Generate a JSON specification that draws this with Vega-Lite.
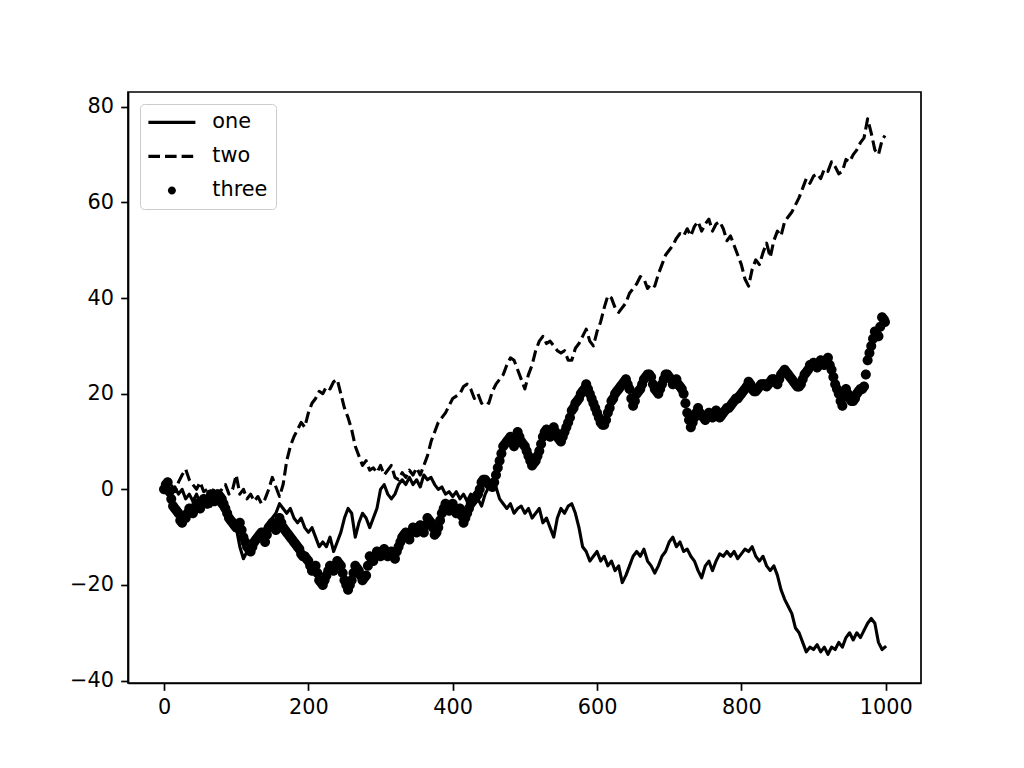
{
"$schema": "https://vega.github.io/schema/vega-lite/v6.json",
"width": 793,
"height": 591,
"autosize": "none",
"padding": {"left": 128, "top": 92, "right": 103, "bottom": 85},
"background": "white",
"config": {
  "view": {"stroke": "black", "strokeWidth": 1.7},
  "axis": {"domainColor": "black", "domainWidth": 1.7, "tickColor": "black", "tickWidth": 1.7, "tickSize": 7.3, "labelFont": "DejaVu Sans", "labelFontSize": 20.8, "labelColor": "black", "labelPadding": 7.3, "grid": false, "labelFlush": false, "labelOverlap": false, "title": null, "format": "d"}
},
"datasets": {
"lines": [
{"x":0,"one":0,"two":0},{"x":5,"one":1,"two":-1},{"x":10,"one":-1,"two":1},{"x":15,"one":0.5,"two":-0.5},{"x":20,"one":-1,"two":1.5},{"x":25,"one":0,"two":3},{"x":30,"one":-2,"two":4.2},{"x":35,"one":-1,"two":2},{"x":40,"one":-2.5,"two":1},{"x":45,"one":-1,"two":0},
{"x":50,"one":-3,"two":1.5},{"x":55,"one":-1.5,"two":-0.5},{"x":60,"one":-2,"two":0},{"x":65,"one":-3.5,"two":-1.5},{"x":70,"one":-2,"two":0.5},{"x":75,"one":-3,"two":-1},{"x":80,"one":-4,"two":0},{"x":85,"one":-5,"two":1},{"x":90,"one":-6,"two":-1},{"x":95,"one":-7,"two":0},
{"x":100,"one":-8,"two":3},{"x":105,"one":-12,"two":-1},{"x":110,"one":-14.5,"two":0},{"x":115,"one":-13,"two":-2},{"x":120,"one":-12,"two":-1},{"x":125,"one":-10,"two":-2.5},{"x":130,"one":-9,"two":-1.5},{"x":135,"one":-10,"two":-3},{"x":140,"one":-8,"two":-2},{"x":145,"one":-7,"two":0},
{"x":150,"one":-6,"two":2.5},{"x":155,"one":-5,"two":0.5},{"x":160,"one":-3,"two":-1.5},{"x":165,"one":-4,"two":1},{"x":170,"one":-5,"two":6},{"x":175,"one":-4,"two":9},{"x":180,"one":-6,"two":11},{"x":185,"one":-7,"two":12.5},{"x":190,"one":-6,"two":14},{"x":195,"one":-8,"two":13},
{"x":200,"one":-9,"two":16},{"x":205,"one":-8,"two":18},{"x":210,"one":-10,"two":19},{"x":215,"one":-12,"two":20.5},{"x":220,"one":-11,"two":20},{"x":225,"one":-12,"two":21.5},{"x":230,"one":-10,"two":21},{"x":235,"one":-13,"two":22.5},{"x":240,"one":-11,"two":23},{"x":245,"one":-9,"two":20},
{"x":250,"one":-6,"two":17},{"x":255,"one":-4,"two":15},{"x":260,"one":-5,"two":12.5},{"x":265,"one":-10,"two":9},{"x":270,"one":-7,"two":7},{"x":275,"one":-5,"two":5},{"x":280,"one":-6,"two":6},{"x":285,"one":-8,"two":4},{"x":290,"one":-6,"two":4.5},{"x":295,"one":-4,"two":3.5},
{"x":300,"one":0,"two":5},{"x":305,"one":1,"two":3},{"x":310,"one":-1,"two":4},{"x":315,"one":-2,"two":5},{"x":320,"one":-1,"two":2.5},{"x":325,"one":1,"two":2},{"x":330,"one":2,"two":3.5},{"x":335,"one":1,"two":2.5},{"x":340,"one":2.5,"two":4},{"x":345,"one":1,"two":3},
{"x":350,"one":2,"two":4.5},{"x":355,"one":0.5,"two":3},{"x":360,"one":3,"two":5},{"x":365,"one":2,"two":7},{"x":370,"one":2.5,"two":10},{"x":375,"one":1,"two":12},{"x":380,"one":0,"two":14},{"x":385,"one":0.5,"two":15},{"x":390,"one":-1,"two":16},{"x":395,"one":-0.5,"two":17.5},
{"x":400,"one":-1.5,"two":19},{"x":405,"one":-0.5,"two":19.5},{"x":410,"one":-2,"two":20},{"x":415,"one":-1,"two":21.5},{"x":420,"one":-2.5,"two":22},{"x":425,"one":-1,"two":21},{"x":430,"one":-3,"two":19},{"x":435,"one":-2,"two":20},{"x":440,"one":-3.5,"two":18},{"x":445,"one":-1,"two":18.5},
{"x":450,"one":0.5,"two":18},{"x":455,"one":0,"two":20.5},{"x":460,"one":0.5,"two":22},{"x":465,"one":-2,"two":23},{"x":470,"one":-3,"two":24},{"x":475,"one":-4,"two":26},{"x":480,"one":-3,"two":27.5},{"x":485,"one":-5,"two":27},{"x":490,"one":-4,"two":25},{"x":495,"one":-3.5,"two":23},
{"x":500,"one":-5,"two":21},{"x":505,"one":-4,"two":24},{"x":510,"one":-6,"two":26},{"x":515,"one":-5,"two":29},{"x":520,"one":-4,"two":31},{"x":525,"one":-7,"two":32},{"x":530,"one":-6,"two":30.5},{"x":535,"one":-8,"two":31},{"x":540,"one":-10,"two":30},{"x":545,"one":-6,"two":29},
{"x":550,"one":-4,"two":28.5},{"x":555,"one":-5,"two":29},{"x":560,"one":-3.5,"two":27},{"x":565,"one":-3,"two":27},{"x":570,"one":-5,"two":29.5},{"x":575,"one":-8,"two":30.5},{"x":580,"one":-12,"two":32},{"x":585,"one":-13,"two":33.5},{"x":590,"one":-15,"two":31},{"x":595,"one":-14,"two":30},
{"x":600,"one":-13,"two":33},{"x":605,"one":-15,"two":35},{"x":610,"one":-14,"two":38},{"x":615,"one":-16,"two":40.5},{"x":620,"one":-15,"two":40},{"x":625,"one":-17,"two":38},{"x":630,"one":-16,"two":37},{"x":635,"one":-19.5,"two":38},{"x":640,"one":-18,"two":39},{"x":645,"one":-16,"two":41},
{"x":650,"one":-14,"two":42},{"x":655,"one":-13,"two":43},{"x":660,"one":-14,"two":44.5},{"x":665,"one":-12.5,"two":44},{"x":670,"one":-15,"two":42},{"x":675,"one":-16,"two":43},{"x":680,"one":-17.5,"two":42.5},{"x":685,"one":-16,"two":45},{"x":690,"one":-14,"two":47},{"x":695,"one":-13,"two":49},
{"x":700,"one":-11,"two":50},{"x":705,"one":-10,"two":51},{"x":710,"one":-12,"two":52.5},{"x":715,"one":-11,"two":53.5},{"x":720,"one":-13,"two":53},{"x":725,"one":-12.5,"two":54.5},{"x":730,"one":-14,"two":53},{"x":735,"one":-15,"two":55},{"x":740,"one":-17,"two":56},{"x":745,"one":-18.5,"two":54},
{"x":750,"one":-16,"two":55.5},{"x":755,"one":-15,"two":56.5},{"x":760,"one":-17,"two":54},{"x":765,"one":-15,"two":55.5},{"x":770,"one":-13.5,"two":56},{"x":775,"one":-14,"two":54.5},{"x":780,"one":-13,"two":52},{"x":785,"one":-14,"two":53},{"x":790,"one":-13,"two":51},{"x":795,"one":-14.5,"two":49},
{"x":800,"one":-13.5,"two":47},{"x":805,"one":-12.5,"two":44},{"x":810,"one":-13,"two":42.5},{"x":815,"one":-12,"two":46},{"x":820,"one":-14,"two":48},{"x":825,"one":-15,"two":47},{"x":830,"one":-14,"two":49.5},{"x":835,"one":-16,"two":51.5},{"x":840,"one":-17,"two":48.5},{"x":845,"one":-16,"two":52},
{"x":850,"one":-18,"two":54},{"x":855,"one":-21,"two":53},{"x":860,"one":-23,"two":56},{"x":865,"one":-24.5,"two":57},{"x":870,"one":-26,"two":58},{"x":875,"one":-29,"two":59.5},{"x":880,"one":-30,"two":61},{"x":885,"one":-32,"two":63},{"x":890,"one":-34,"two":65},{"x":895,"one":-33,"two":64},
{"x":900,"one":-33.5,"two":65.5},{"x":905,"one":-32.5,"two":66},{"x":910,"one":-34,"two":65},{"x":915,"one":-33,"two":67},{"x":920,"one":-34.5,"two":66.5},{"x":925,"one":-33,"two":68.5},{"x":930,"one":-33.5,"two":67.5},{"x":935,"one":-32,"two":66},{"x":940,"one":-33,"two":66.5},{"x":945,"one":-31,"two":69},
{"x":950,"one":-30,"two":68.5},{"x":955,"one":-31.5,"two":70},{"x":960,"one":-30,"two":71},{"x":965,"one":-31,"two":72.5},{"x":970,"one":-29.5,"two":73.5},{"x":975,"one":-28,"two":77.5},{"x":980,"one":-27,"two":74.5},{"x":985,"one":-28,"two":71},{"x":990,"one":-32,"two":70},{"x":995,"one":-33.5,"two":73},{"x":999,"one":-33,"two":74}
],
"dots": [
{"x":0,"three":0},{"x":2.5,"three":1},{"x":5,"three":1.5},{"x":7.5,"three":-0.5},{"x":10,"three":-2},{"x":12.5,"three":-3.5},{"x":15,"three":-4},{"x":17.5,"three":-4.5},{"x":20,"three":-5},{"x":22.5,"three":-6.5},
{"x":25,"three":-7},{"x":27.5,"three":-6},{"x":30,"three":-6},{"x":32.5,"three":-5},{"x":35,"three":-4},{"x":37.5,"three":-4.5},{"x":40,"three":-5},{"x":42.5,"three":-4},{"x":45,"three":-3},{"x":47.5,"three":-3.5},
{"x":50,"three":-4},{"x":52.5,"three":-3},{"x":55,"three":-2},{"x":57.5,"three":-2.5},{"x":60,"three":-3},{"x":62.5,"three":-2},{"x":65,"three":-1},{"x":67.5,"three":-1.5},{"x":70,"three":-2.5},{"x":72.5,"three":-1.5},
{"x":75,"three":-1},{"x":77.5,"three":-1.5},{"x":80,"three":-2},{"x":82.5,"three":-3},{"x":85,"three":-4},{"x":87.5,"three":-5},{"x":90,"three":-6},{"x":92.5,"three":-6.5},{"x":95,"three":-7},{"x":97.5,"three":-7.5},
{"x":100,"three":-8},{"x":102.5,"three":-7.5},{"x":105,"three":-7},{"x":107.5,"three":-8.5},{"x":110,"three":-10},{"x":112.5,"three":-11},{"x":115,"three":-12},{"x":117.5,"three":-12.5},{"x":120,"three":-13},{"x":122.5,"three":-12},
{"x":125,"three":-11},{"x":127.5,"three":-10.5},{"x":130,"three":-10},{"x":132.5,"three":-9.5},{"x":135,"three":-9},{"x":137.5,"three":-10},{"x":140,"three":-11},{"x":142.5,"three":-9.5},{"x":145,"three":-8},{"x":147.5,"three":-7.5},
{"x":150,"three":-7},{"x":152.5,"three":-7.5},{"x":155,"three":-8.5},{"x":157.5,"three":-7},{"x":160,"three":-6},{"x":162.5,"three":-7},{"x":165,"three":-8},{"x":167.5,"three":-8.5},{"x":170,"three":-9},{"x":172.5,"three":-9.5},
{"x":175,"three":-10},{"x":177.5,"three":-10.5},{"x":180,"three":-11},{"x":182.5,"three":-11.5},{"x":185,"three":-12},{"x":187.5,"three":-12.5},{"x":190,"three":-13.5},{"x":192.5,"three":-14},{"x":195,"three":-14},{"x":197.5,"three":-14.5},
{"x":200,"three":-15},{"x":202.5,"three":-16},{"x":205,"three":-17},{"x":207.5,"three":-16.5},{"x":210,"three":-16},{"x":212.5,"three":-17.5},{"x":215,"three":-19},{"x":217.5,"three":-19.5},{"x":220,"three":-20},{"x":222.5,"three":-19},
{"x":225,"three":-18},{"x":227.5,"three":-17},{"x":230,"three":-16},{"x":232.5,"three":-16.5},{"x":235,"three":-17},{"x":237.5,"three":-16},{"x":240,"three":-15},{"x":242.5,"three":-15.5},{"x":245,"three":-16},{"x":247.5,"three":-17.5},
{"x":250,"three":-19},{"x":252.5,"three":-20},{"x":255,"three":-21},{"x":257.5,"three":-20},{"x":260,"three":-19},{"x":262.5,"three":-17.5},{"x":265,"three":-16},{"x":267.5,"three":-16.5},{"x":270,"three":-17},{"x":272.5,"three":-18},
{"x":275,"three":-19},{"x":277.5,"three":-18.5},{"x":280,"three":-18},{"x":282.5,"three":-16},{"x":285,"three":-14},{"x":287.5,"three":-14.5},{"x":290,"three":-15},{"x":292.5,"three":-14},{"x":295,"three":-13},{"x":297.5,"three":-13.5},
{"x":300,"three":-14},{"x":302.5,"three":-13},{"x":305,"three":-12.5},{"x":307.5,"three":-13},{"x":310,"three":-14},{"x":312.5,"three":-13.5},{"x":315,"three":-13},{"x":317.5,"three":-13.5},{"x":320,"three":-14.5},{"x":322.5,"three":-13},
{"x":325,"three":-12},{"x":327.5,"three":-11},{"x":330,"three":-10},{"x":332.5,"three":-9.5},{"x":335,"three":-9},{"x":337.5,"three":-9.5},{"x":340,"three":-10.5},{"x":342.5,"three":-9},{"x":345,"three":-8},{"x":347.5,"three":-8.5},
{"x":350,"three":-9},{"x":352.5,"three":-8},{"x":355,"three":-7.5},{"x":357.5,"three":-8},{"x":360,"three":-9},{"x":362.5,"three":-7.5},{"x":365,"three":-6},{"x":367.5,"three":-6.5},{"x":370,"three":-7},{"x":372.5,"three":-8},
{"x":375,"three":-9.5},{"x":377.5,"three":-9},{"x":380,"three":-8},{"x":382.5,"three":-6.5},{"x":385,"three":-5},{"x":387.5,"three":-4},{"x":390,"three":-3},{"x":392.5,"three":-3.5},{"x":395,"three":-4.5},{"x":397.5,"three":-3.5},
{"x":400,"three":-3},{"x":402.5,"three":-4},{"x":405,"three":-5},{"x":407.5,"three":-4.5},{"x":410,"three":-4},{"x":412.5,"three":-5.5},{"x":415,"three":-7},{"x":417.5,"three":-6},{"x":420,"three":-5},{"x":422.5,"three":-4},
{"x":425,"three":-3},{"x":427.5,"three":-2.5},{"x":430,"three":-2},{"x":432.5,"three":-1.5},{"x":435,"three":-1},{"x":437.5,"three":0},{"x":440,"three":1.5},{"x":442.5,"three":2},{"x":445,"three":2},{"x":447.5,"three":1.5},
{"x":450,"three":1},{"x":452.5,"three":1},{"x":455,"three":0.5},{"x":457.5,"three":1.5},{"x":460,"three":3},{"x":462.5,"three":4.5},{"x":465,"three":6},{"x":467.5,"three":7.5},{"x":470,"three":9},{"x":472.5,"three":9.5},
{"x":475,"three":10},{"x":477.5,"three":10.5},{"x":480,"three":11},{"x":482.5,"three":10},{"x":485,"three":9},{"x":487.5,"three":10.5},{"x":490,"three":12},{"x":492.5,"three":11},{"x":495,"three":10},{"x":497.5,"three":9.5},
{"x":500,"three":9},{"x":502.5,"three":8},{"x":505,"three":7},{"x":507.5,"three":6},{"x":510,"three":5},{"x":512.5,"three":5.5},{"x":515,"three":6},{"x":517.5,"three":7},{"x":520,"three":8},{"x":522.5,"three":9.5},
{"x":525,"three":11},{"x":527.5,"three":12},{"x":530,"three":12.5},{"x":532.5,"three":12},{"x":535,"three":11},{"x":537.5,"three":12},{"x":540,"three":13},{"x":542.5,"three":12},{"x":545,"three":11},{"x":547.5,"three":10.5},
{"x":550,"three":10},{"x":552.5,"three":11},{"x":555,"three":12},{"x":557.5,"three":13},{"x":560,"three":14},{"x":562.5,"three":15},{"x":565,"three":16.5},{"x":567.5,"three":17},{"x":570,"three":18},{"x":572.5,"three":18.5},
{"x":575,"three":19},{"x":577.5,"three":20},{"x":580,"three":20.5},{"x":582.5,"three":21},{"x":585,"three":22},{"x":587.5,"three":21},{"x":590,"three":20},{"x":592.5,"three":19},{"x":595,"three":18},{"x":597.5,"three":17},
{"x":600,"three":16},{"x":602.5,"three":15},{"x":605,"three":14},{"x":607.5,"three":13.5},{"x":610,"three":13.5},{"x":612.5,"three":14.5},{"x":615,"three":16},{"x":617.5,"three":17},{"x":620,"three":18.5},{"x":622.5,"three":19},
{"x":625,"three":20},{"x":627.5,"three":20.5},{"x":630,"three":21},{"x":632.5,"three":21.5},{"x":635,"three":22},{"x":637.5,"three":22.5},{"x":640,"three":23},{"x":642.5,"three":22},{"x":645,"three":21},{"x":647.5,"three":19},
{"x":650,"three":17.5},{"x":652.5,"three":18.5},{"x":655,"three":20},{"x":657.5,"three":20.5},{"x":660,"three":21},{"x":662.5,"three":22},{"x":665,"three":23},{"x":667.5,"three":23.5},{"x":670,"three":24},{"x":672.5,"three":24},
{"x":675,"three":23.5},{"x":677.5,"three":22},{"x":680,"three":21},{"x":682.5,"three":20.5},{"x":685,"three":20},{"x":687.5,"three":21},{"x":690,"three":22},{"x":692.5,"three":23},{"x":695,"three":24},{"x":697.5,"three":24},
{"x":700,"three":23.5},{"x":702.5,"three":23},{"x":705,"three":22},{"x":707.5,"three":22.5},{"x":710,"three":23},{"x":712.5,"three":22},{"x":715,"three":21.5},{"x":717.5,"three":21},{"x":720,"three":20},{"x":722.5,"three":18},
{"x":725,"three":16},{"x":727.5,"three":14.5},{"x":730,"three":13},{"x":732.5,"three":14},{"x":735,"three":15},{"x":737.5,"three":16},{"x":740,"three":17},{"x":742.5,"three":16},{"x":745,"three":15.5},{"x":747.5,"three":15},
{"x":750,"three":14.5},{"x":752.5,"three":15},{"x":755,"three":16},{"x":757.5,"three":15.5},{"x":760,"three":15},{"x":762.5,"three":15.5},{"x":765,"three":16.5},{"x":767.5,"three":16},{"x":770,"three":15},{"x":772.5,"three":15.5},
{"x":775,"three":16},{"x":777.5,"three":16.5},{"x":780,"three":17},{"x":782.5,"three":17},{"x":785,"three":17.5},{"x":787.5,"three":18},{"x":790,"three":18.5},{"x":792.5,"three":19},{"x":795,"three":19},{"x":797.5,"three":19.5},
{"x":800,"three":20},{"x":802.5,"three":20.5},{"x":805,"three":21},{"x":807.5,"three":21.5},{"x":810,"three":22.5},{"x":812.5,"three":22},{"x":815,"three":21},{"x":817.5,"three":20.5},{"x":820,"three":20.5},{"x":822.5,"three":21},
{"x":825,"three":21.5},{"x":827.5,"three":22},{"x":830,"three":22},{"x":832.5,"three":22},{"x":835,"three":21.5},{"x":837.5,"three":22},{"x":840,"three":22.5},{"x":842.5,"three":23},{"x":845,"three":23},{"x":847.5,"three":22.5},
{"x":850,"three":22},{"x":852.5,"three":23},{"x":855,"three":24},{"x":857.5,"three":24.5},{"x":860,"three":25},{"x":862.5,"three":24.5},{"x":865,"three":24},{"x":867.5,"three":23.5},{"x":870,"three":23},{"x":872.5,"three":22.5},
{"x":875,"three":22},{"x":877.5,"three":21.5},{"x":880,"three":21.5},{"x":882.5,"three":22},{"x":885,"three":23},{"x":887.5,"three":24},{"x":890,"three":24.5},{"x":892.5,"three":25},{"x":895,"three":26},{"x":897.5,"three":26},
{"x":900,"three":26.5},{"x":902.5,"three":26},{"x":905,"three":25.5},{"x":907.5,"three":26},{"x":910,"three":27},{"x":912.5,"three":26.5},{"x":915,"three":26},{"x":917.5,"three":27},{"x":920,"three":27.5},{"x":922.5,"three":26},
{"x":925,"three":25},{"x":927.5,"three":23.5},{"x":930,"three":22},{"x":932.5,"three":21},{"x":935,"three":20},{"x":937.5,"three":18.5},{"x":940,"three":17.5},{"x":942.5,"three":19.5},{"x":945,"three":21},{"x":947.5,"three":20},
{"x":950,"three":19},{"x":952.5,"three":18.5},{"x":955,"three":18.5},{"x":957.5,"three":19},{"x":960,"three":20},{"x":962.5,"three":20.5},{"x":965,"three":21},{"x":967.5,"three":21},{"x":970,"three":21.5},{"x":972.5,"three":24},
{"x":975,"three":27},{"x":977.5,"three":28.5},{"x":980,"three":30},{"x":982.5,"three":31.5},{"x":985,"three":33},{"x":987.5,"three":32.5},{"x":990,"three":32},{"x":992.5,"three":34},{"x":995,"three":36},{"x":997.5,"three":35.5},
{"x":999,"three":35}
]
},
"encoding": {
  "x": {"field": "x", "type": "quantitative", "scale": {"domain": [-49.95, 1048.95], "nice": false, "zero": false}, "axis": {"values": [0, 200, 400, 600, 800, 1000], "title": null, "format": "d"}}
},
"layer": [
  {
    "data": {"name": "lines"},
    "mark": {"type": "line", "color": "black", "strokeWidth": 3.1, "strokeJoin": "round", "strokeCap": "square"},
    "encoding": {
      "y": {"field": "one", "type": "quantitative", "scale": {"domain": [-40.5, 83.1], "nice": false, "zero": false}, "axis": {"values": [-40, -20, 0, 20, 40, 60, 80], "title": null, "format": "d"}}
    }
  },
  {
    "data": {"name": "lines"},
    "mark": {"type": "line", "color": "black", "strokeWidth": 3.1, "strokeJoin": "round", "strokeDash": [11.6, 5]},
    "encoding": {
      "y": {"field": "two", "type": "quantitative", "scale": {"domain": [-40.5, 83.1], "nice": false, "zero": false}, "axis": {"values": [-40, -20, 0, 20, 40, 60, 80], "title": null, "format": "d"}}
    }
  },
  {
    "data": {"name": "dots"},
    "mark": {"type": "point", "filled": true, "opacity": 1, "color": "black", "size": 625},
    "encoding": {
      "y": {"field": "three", "type": "quantitative", "scale": {"domain": [-40.5, 83.1], "nice": false, "zero": false}, "axis": {"values": [-40, -20, 0, 20, 40, 60, 80], "title": null, "format": "d"}},
      "shape": {
        "datum": "three",
        "scale": {
          "domain": ["one", "two", "three"],
          "range": [
            "M-2.35,-0.155H2.35V0.155H-2.35Z",
            "M-2.35,-0.155H-1.19V0.155H-2.35ZM-0.69,-0.155H0.47V0.155H-0.69ZM0.97,-0.155H2.13V0.155H0.97Z",
            "M0.4,0A0.4,0.4,0,1,1,-0.4,0A0.4,0.4,0,1,1,0.4,0Z"
          ]
        },
        "legend": {
          "title": null,
          "orient": "top-left",
          "offset": 12,
          "padding": 8,
          "symbolSize": 400,
          "symbolOffset": 13.5,
          "labelOffset": 30,
          "rowPadding": 12,
          "labelFont": "DejaVu Sans",
          "labelFontSize": 20.8,
          "labelColor": "black",
          "strokeColor": "#cccccc",
          "fillColor": "white",
          "cornerRadius": 4,
          "symbolFillColor": "black",
          "symbolStrokeColor": "black",
          "symbolStrokeWidth": 0,
          "symbolOpacity": 1
        }
      }
    }
  }
]
}
